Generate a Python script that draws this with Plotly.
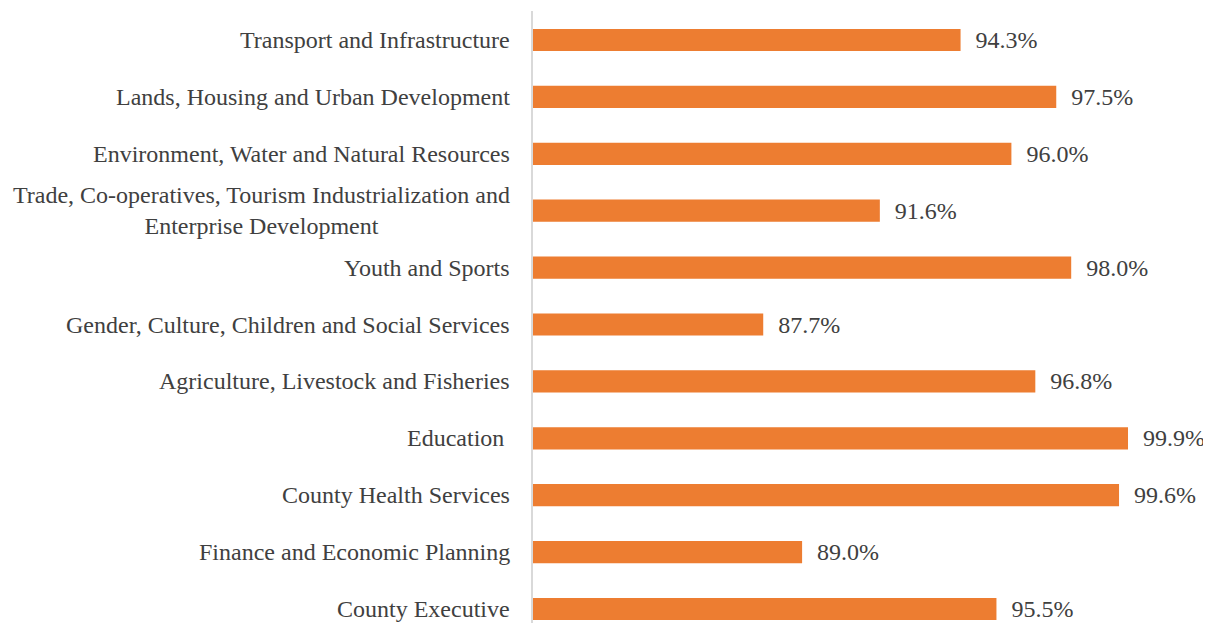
import plotly.graph_objects as go

departments = [
    "County Executive",
    "Finance and Economic Planning",
    "County Health Services",
    "Education ",
    "Agriculture, Livestock and Fisheries",
    "Gender, Culture, Children and Social Services",
    "Youth and Sports",
    "Trade, Co-operatives, Tourism Industrialization and<br>Enterprise Development",
    "Environment, Water and Natural Resources",
    "Lands, Housing and Urban Development",
    "Transport and Infrastructure",
]
absorption = [95.5, 89.0, 99.6, 99.9, 96.8, 87.7, 98.0, 91.6, 96.0, 97.5, 94.3]

FONT = "Liberation Serif"
TXT = "#404040"

fig = go.Figure()
fig.add_trace(go.Bar(
    y=list(range(len(departments))), x=[v - 80 for v in absorption],
    orientation="h", base=80, width=0.39,
    marker=dict(color="#ED7D31", line=dict(width=0)),
    text=["\u00a0\u00a0%.1f%%" % v for v in absorption],
    textposition="outside", cliponaxis=False, constraintext="none",
    textfont=dict(family=FONT, size=24, color=TXT),
))

for i, name in enumerate(departments):
    fig.add_annotation(
        x=0, xref="paper", y=i, yref="y", text=name, showarrow=False,
        xanchor="right", align="center", xshift=-21,
        font=dict(family=FONT, size=24, color=TXT),
    )

fig.update_xaxes(range=[80, 100], visible=False)
fig.update_yaxes(range=[-0.246, 10.51], showticklabels=False, showgrid=False,
                 zeroline=False, showline=True, linecolor="#d9d9d9", linewidth=2)
fig.update_layout(
    width=1203, height=615, showlegend=False,
    margin=dict(l=525, r=80, t=3, b=0),
    plot_bgcolor="white", paper_bgcolor="white",
    font=dict(family=FONT, color=TXT),
)
fig.write_html("out.html")
